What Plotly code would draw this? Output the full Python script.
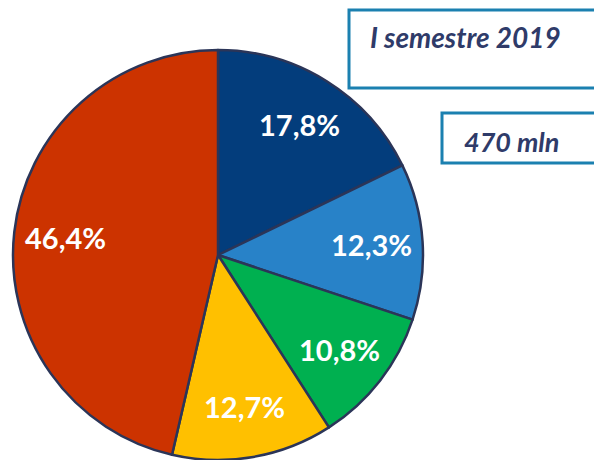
import math
import plotly.graph_objects as go

labels = ["A", "B", "C", "D", "E"]
values = [17.8, 12.3, 10.8, 12.7, 46.4]
text_labels = ["17,8%", "12,3%", "10,8%", "12,7%", "46,4%"]
colors = ["#033D7C", "#2882C8", "#00B050", "#FFC000", "#CC3300"]
title_text = "I semestre 2019"
total_text = "470 mln"

W, H = 594, 460
CX, CY, R = 218, 255, 205  # pie centre and radius in px
LABEL_R = 0.75

fig = go.Figure(go.Pie(
    labels=labels,
    values=values,
    textinfo="none",
    sort=False,
    direction="clockwise",
    rotation=0,
    marker=dict(colors=colors, line=dict(color="#2B3558", width=2.5)),
    domain=dict(x=[(CX - R) / W, (CX + R) / W], y=[0, 2 * R / H]),
    showlegend=False,
    hoverinfo="skip",
))

total = sum(values)
cum = 0.0
for v, t in zip(values, text_labels):
    mid = (cum + v / 2) / total * 2 * math.pi
    cum += v
    px = CX + LABEL_R * R * math.sin(mid)
    py = CY - LABEL_R * R * math.cos(mid)
    fig.add_annotation(text=f"<b>{t}</b>", xref="paper", yref="paper",
                       x=px / W, y=1 - py / H, xanchor="center", yanchor="middle",
                       showarrow=False,
                       font=dict(family="Lato", size=29, color="white"))

border = "#1B80B0"
fig.add_shape(type="rect", xref="paper", yref="paper",
              x0=349 / W, x1=1.05, y0=1 - 88 / H, y1=1 - 10 / H,
              line=dict(color=border, width=3), fillcolor="white")
fig.add_shape(type="rect", xref="paper", yref="paper",
              x0=442 / W, x1=1.05, y0=1 - 163 / H, y1=1 - 113 / H,
              line=dict(color=border, width=3), fillcolor="white")

fig.add_annotation(text=f"<b><i>{title_text}</i></b>", xref="paper", yref="paper",
                   x=368 / W, y=1 - 37 / H, xanchor="left", yanchor="middle",
                   showarrow=False, font=dict(family="Lato", size=28, color="#2F3B69"))
fig.add_annotation(text=f"<b><i>{total_text}</i></b>", xref="paper", yref="paper",
                   x=462 / W, y=1 - 141 / H, xanchor="left", yanchor="middle",
                   showarrow=False, font=dict(family="Lato", size=27, color="#2F3B69"))

fig.update_layout(width=W, height=H, margin=dict(l=0, r=0, t=0, b=0),
                  paper_bgcolor="white", plot_bgcolor="white")

fig.write_html("out.html", config={"displayModeBar": False},
               post_script="document.body.style.margin='0';")
